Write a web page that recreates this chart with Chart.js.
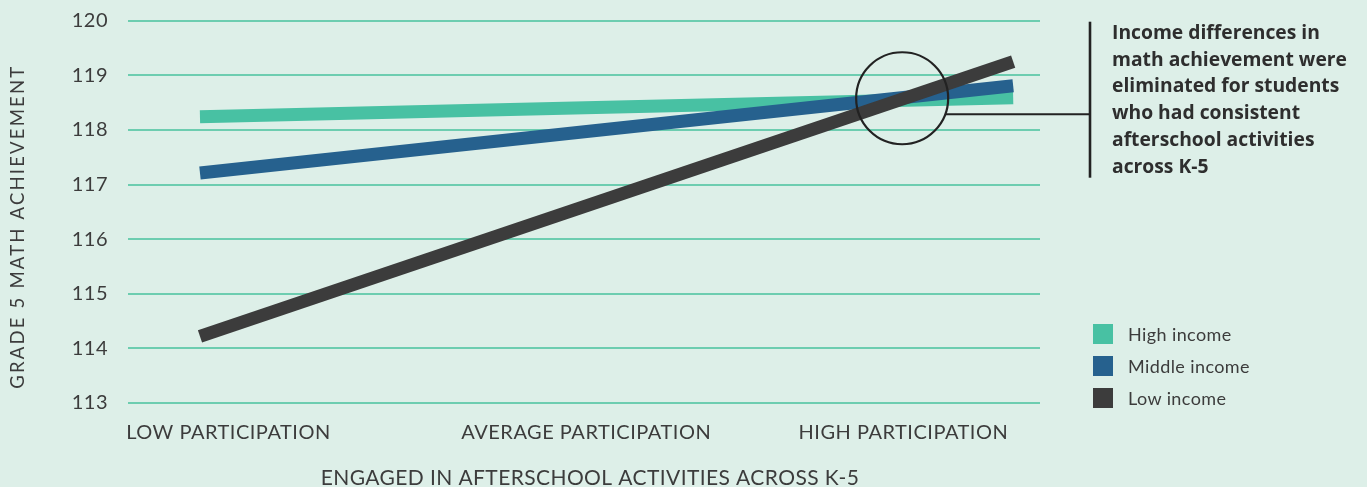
<!DOCTYPE html>
<html>
<head>
<meta charset="utf-8">
<script src="https://cdn.jsdelivr.net/npm/chart.js@4"></script>
<style>
  html, body { margin: 0; padding: 0; background: #ddefe8; }
  #wrap { position: relative; width: 1367px; height: 487px; overflow: hidden; }
  #note {
    position: absolute; left: 1112px; top: 19px; width: 255px; white-space: nowrap;
    font: bold 19.3px "Open Sans", sans-serif; line-height: 26.7px; color: #2e2e2e;
  }
  #legend { position: absolute; left: 1093px; top: 324px; font: 18px Lato, sans-serif; color: #3c3c3c; letter-spacing: 0.4px; }
  #legend div { height: 32px; display: flex; align-items: flex-start; }
  #legend span.box { width: 20px; height: 20px; margin-right: 15px; }
  #legend span.txt { line-height: 20px; }
</style>
</head>
<body>
<div id="wrap">
  <canvas id="chart" width="1367" height="487"></canvas>
  <div id="note">Income differences in<br>math achievement were<br>eliminated for students<br>who had consistent<br>afterschool activities<br>across K-5</div>
  <div id="legend"></div>
</div>
<script>
// ---------------- DATA ----------------
const seriesNames = ["High income", "Middle income", "Low income"];
const seriesColors = ["#48c1a3", "#26618e", "#3c3c3c"];
const xEnds = [0, 2];
const highIncome = [118.24, 118.59];
const middleIncome = [117.21, 118.81];
const lowIncome = [114.22, 119.25];
const xTickValues = [0.07, 0.95, 1.73];
const xTickLabels = ["LOW PARTICIPATION", "AVERAGE PARTICIPATION", "HIGH PARTICIPATION"];
const yTicks = [113, 114, 115, 116, 117, 118, 119, 120];
const xTitle = "ENGAGED IN AFTERSCHOOL ACTIVITIES ACROSS K-5";
const yTitle = "GRADE 5 MATH ACHIEVEMENT";
const circleAt = { x: 1.727, y: 118.58 };

const allSeries = [highIncome, middleIncome, lowIncome];

// ---------------- LEGEND ----------------
const legendDiv = document.getElementById("legend");
seriesNames.forEach((name, i) => {
  legendDiv.innerHTML += `<div><span class="box" style="background:${seriesColors[i]}"></span><span class="txt">${name}</span></div>`;
});

// ---------------- PLUGINS ----------------
// tracked text, like the original typesetting
const tracking = {
  id: "tracking",
  beforeDraw(chart) { chart.ctx.letterSpacing = "0.5px"; }
};

const axisTitles = {
  id: "axisTitles",
  afterDraw(chart) {
    const {ctx, chartArea} = chart;
    ctx.save();
    ctx.fillStyle = "#3c3c3c";
    ctx.textAlign = "center";
    ctx.textBaseline = "middle";
    // x title
    ctx.letterSpacing = "0.4px";
    ctx.font = "21px Lato";
    ctx.fillText(xTitle, (chartArea.left + chartArea.right) / 2 + 6, chartArea.bottom + 75);
    // y title
    ctx.letterSpacing = "2.2px";
    ctx.font = "18.5px Lato";
    ctx.translate(18.5, chartArea.top + 206);
    ctx.rotate(-Math.PI / 2);
    ctx.fillText(yTitle, 0, 0);
    ctx.restore();
  }
};

const callout = {
  id: "callout",
  afterDatasetsDraw(chart) {
    const {ctx, scales, chartArea} = chart;
    const cx = scales.x.getPixelForValue(circleAt.x);
    const cy = scales.y.getPixelForValue(circleAt.y);
    const r = 46;
    ctx.save();
    ctx.strokeStyle = "#222";
    ctx.lineWidth = 2.2;
    ctx.beginPath();
    ctx.arc(cx, cy, r, 0, Math.PI * 2);
    ctx.stroke();
    const ly = cy + 16;
    const vx = chartArea.right + 50;
    ctx.beginPath();
    ctx.moveTo(cx + Math.sqrt(r * r - 16 * 16), ly);
    ctx.lineTo(vx, ly);
    ctx.stroke();
    ctx.lineWidth = 2.6;
    ctx.beginPath();
    ctx.moveTo(vx, chartArea.top + 1);
    ctx.lineTo(vx, chartArea.top + 157);
    ctx.stroke();
    ctx.restore();
  }
};

// ---------------- CHART ----------------
new Chart(document.getElementById("chart"), {
  type: "line",
  data: {
    datasets: allSeries.map((vals, i) => ({
      label: seriesNames[i],
      data: vals.map((v, j) => ({ x: xEnds[j], y: v })),
      borderColor: seriesColors[i],
      backgroundColor: seriesColors[i],
      borderWidth: 13,
      borderCapStyle: "butt",
      pointRadius: 0,
      tension: 0,
      order: 3 - i
    }))
  },
  options: {
    responsive: false,
    animation: false,
    layout: { padding: { top: 20.7, right: 327, bottom: 0, left: 0 } },
    plugins: { legend: { display: false }, tooltip: { enabled: false } },
    scales: {
      x: {
        type: "linear",
        min: -0.177,
        max: 2.066,
        afterBuildTicks: s => { s.ticks = xTickValues.map(v => ({ value: v })); },
        afterFit: s => { s.height = 84; s.paddingLeft = 0; s.paddingRight = 0; },
        grid: { display: false },
        border: { display: false },
        ticks: {
          padding: 10,
          maxRotation: 0,
          autoSkip: false,
          color: "#3c3c3c",
          font: { family: "Lato", size: 20 },
          callback: (v, i) => xTickLabels[i]
        }
      },
      y: {
        min: 113,
        max: 120,
        afterBuildTicks: s => { s.ticks = yTicks.map(v => ({ value: v })); },
        afterFit: s => { s.width = 128; s.paddingTop = 0; s.paddingBottom = 0; },
        grid: { color: "#6dcdb0", lineWidth: 2, drawTicks: false },
        border: { display: false },
        ticks: {
          padding: 20,
          color: "#3c3c3c",
          font: { family: "Lato", size: 20 }
        }
      }
    }
  },
  plugins: [tracking, axisTitles, callout]
});
</script>
</body>
</html>
